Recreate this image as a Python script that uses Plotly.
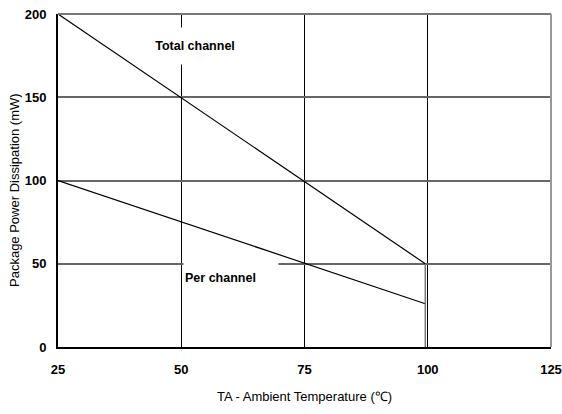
import plotly.graph_objects as go

# Data
total_x = [25, 99.5]
total_y = [200, 50]
per_x = [25, 99.5]
per_y = [100, 26]
drop_x = [99.5, 99.5]
drop_y = [50, 0]

x_ticks = [25, 50, 75, 100, 125]
y_ticks = [0, 50, 100, 150, 200]

FONT = "Liberation Sans, Arial, sans-serif"

fig = go.Figure()
fig.add_trace(go.Scatter(x=total_x, y=total_y, mode="lines",
                         line=dict(color="black", width=1.2), showlegend=False))
fig.add_trace(go.Scatter(x=per_x, y=per_y, mode="lines",
                         line=dict(color="black", width=1.2), showlegend=False))
fig.add_trace(go.Scatter(x=drop_x, y=drop_y, mode="lines",
                         line=dict(color="#777777", width=1.5), showlegend=False))

fig.add_annotation(x=52.8, y=180.8, text="<b>Total channel</b>", showarrow=False,
                   font=dict(family=FONT, size=12.5, color="black"),
                   bgcolor="white", width=92, height=34, align="center")
fig.add_annotation(x=60.0, y=41.7, text="<b>Per channel</b>", showarrow=False,
                   font=dict(family=FONT, size=12.5, color="black"),
                   bgcolor="white", width=92, height=27, align="left")

# Y axis title (as annotation for precise placement)
fig.add_annotation(xref="paper", yref="paper", x=(14 - 58) / 493, y=(347 - 190) / 333,
                   text="Package Power Dissipation (mW)", textangle=-90, showarrow=False,
                   font=dict(family=FONT, size=13, color="black"),
                   xanchor="center", yanchor="middle")

# Top and right borders
fig.add_shape(type="line", xref="paper", yref="paper", x0=0, x1=1, y0=1, y1=1,
              line=dict(color="#777777", width=2))
fig.add_shape(type="line", xref="paper", yref="paper", x0=1, x1=1, y0=0, y1=1,
              line=dict(color="#999999", width=2))

fig.update_layout(
    width=562, height=414,
    margin=dict(l=58, r=11, t=14, b=67),
    plot_bgcolor="white", paper_bgcolor="white",
    font=dict(family=FONT, color="black"),
    xaxis=dict(range=[25, 125], tickvals=x_ticks,
               ticktext=[f"<b>{v}</b>" for v in x_ticks],
               tickfont=dict(size=13), showgrid=True, gridcolor="black", gridwidth=1,
               showline=True, linecolor="black", linewidth=2, zeroline=False,
               ticks="", ticklabelstandoff=9, automargin=False,
               title=dict(text="TA - Ambient Temperature (\u2103)", font=dict(size=13), standoff=16)),
    yaxis=dict(range=[0, 200], tickvals=y_ticks,
               ticktext=[f"<b>{v}</b>" for v in y_ticks],
               tickfont=dict(size=13), showgrid=True, gridcolor="#666666", gridwidth=2,
               showline=True, linecolor="black", linewidth=2, zeroline=False,
               ticks="", ticklabelstandoff=7, automargin=False),
)

fig.write_html("out.html")
